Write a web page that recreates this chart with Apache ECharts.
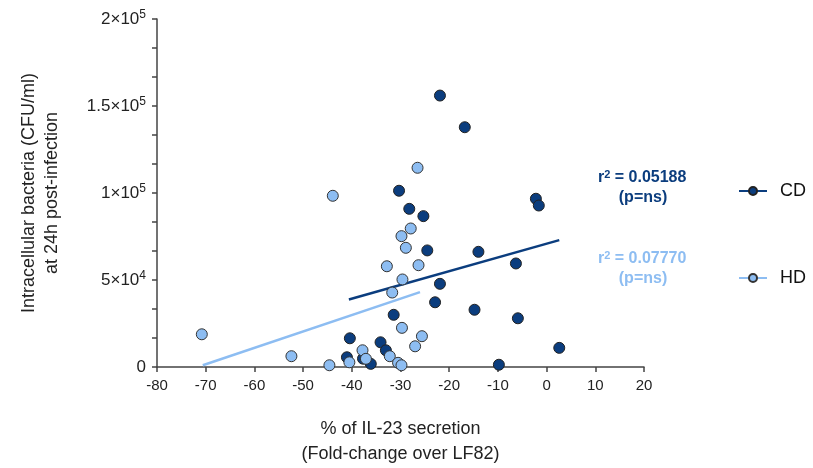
<!DOCTYPE html>
<html>
<head>
<meta charset="utf-8">
<script src="https://cdn.jsdelivr.net/npm/echarts@6/dist/echarts.min.js"></script>
<style>
  html, body { margin: 0; padding: 0; background: #fff; }
  #chart { width: 813px; height: 468px; }
</style>
</head>
<body>
<div id="chart"></div>
<script>
// data: [% IL-23 change, CFU/ml]
const cdPoints = [
  [-21.9, 156000], [-16.8, 137800], [-30.3, 101300], [-28.2, 90900],
  [-25.3, 86700], [-24.5, 67000], [-14.0, 66200], [-21.9, 47800],
  [-22.9, 37200], [-31.4, 30000], [-40.4, 16500], [-34.1, 14200],
  [-33.0, 9600], [-41.0, 5600], [-36.1, 1800], [-37.7, 4800],
  [-2.2, 96700], [-1.6, 92800], [-6.3, 59500], [-14.8, 32900],
  [-5.9, 28000], [2.6, 11000], [-9.8, 1300]
]
const hdPoints = [
  [-43.9, 98400], [-70.8, 18800], [-52.4, 6200], [-44.6, 1000],
  [-26.5, 114500], [-27.9, 79600], [-29.8, 75200], [-28.9, 68500],
  [-32.8, 57900], [-26.3, 58500], [-29.6, 50300], [-31.7, 42800],
  [-29.7, 22500], [-25.6, 17700], [-27.0, 11900], [-37.8, 9600],
  [-37.1, 4700], [-32.2, 6200], [-40.5, 2700], [-30.5, 2400],
  [-29.8, 1000]
]
// fitted regression lines (end points)
const cdFit = [[-40.6, 38800], [2.6, 72900]]
const hdFit = [[-70.6, 1000], [-26.0, 43000]]

const cdStats = ['0.05188', 'ns']
const hdStats = ['0.07770', 'ns']

const yTickLabels = {
  0: ['0', ''],
  50000: ['5×10', '4'],
  100000: ['1×10', '5'],
  150000: ['1.5×10', '5'],
  200000: ['2×10', '5']
}

const darkBlue = '#0b3d7e'
const lightBlue = '#8dbdf2'
const fontName = 'Liberation Sans, Arial, sans-serif'

let chart = echarts.init(document.getElementById('chart'), null, { renderer: 'canvas' })

let statText = (stats, color, top) => ({
  type: 'text',
  left: 598,
  top: top,
  style: {
    text: '{b|r}{s|2}{b| = ' + stats[0] + '}\n{c|(p=' + stats[1] + ')}',
    rich: {
      b: { fontSize: 16, fontWeight: 'bold', fill: color, fontFamily: fontName },
      s: { fontSize: 11, fontWeight: 'bold', fill: color, fontFamily: fontName, verticalAlign: 'top', padding: [0, 0, 6, 0] },
      c: { fontSize: 16, fontWeight: 'bold', fill: color, fontFamily: fontName, width: 90, align: 'center', lineHeight: 24 }
    }
  }
})

let option = {
  animation: false,
  textStyle: { fontFamily: fontName },
  grid: { left: 157, right: 169, top: 19, bottom: 101, containLabel: false, outerBoundsMode: 'none' },
  xAxis: {
    type: 'value',
    min: -80, max: 20, interval: 10,
    splitLine: { show: false },
    axisLine: { onZero: false, lineStyle: { color: '#444', width: 1.5 } },
    axisTick: { length: 5, lineStyle: { color: '#444', width: 1.5 } },
    axisLabel: { fontSize: 15, color: '#222', margin: 11 },
    name: '% of IL-23 secretion\n(Fold-change over LF82)',
    nameLocation: 'middle',
    nameGap: 50,
    nameTextStyle: { fontSize: 18, color: '#222', lineHeight: 25 }
  },
  yAxis: {
    type: 'value',
    min: 0, max: 200000, interval: 50000,
    splitLine: { show: false },
    axisLine: { show: true, onZero: false, lineStyle: { color: '#444', width: 1.5 } },
    axisTick: { show: true, length: 5, lineStyle: { color: '#444', width: 1.5 } },
    minorTick: { show: true, splitNumber: 3, length: 5, lineStyle: { color: '#444', width: 1.5 } },
    axisLabel: {
      margin: 11,
      formatter: v => {
        let t = yTickLabels[v]
        return t[1] ? '{m|' + t[0] + '}{e|' + t[1] + '}' : '{m|' + t[0] + '}'
      },
      rich: {
        m: { fontSize: 17, color: '#222' },
        e: { fontSize: 12, color: '#222', verticalAlign: 'top', padding: [0, 0, 8, 0] }
      }
    },
    name: 'Intracellular bacteria (CFU/ml)\nat 24h post-infection',
    nameLocation: 'middle',
    nameRotate: 90,
    nameGap: 93,
    nameTextStyle: { fontSize: 18, color: '#222', lineHeight: 23 }
  },
  legend: {
    data: ['CD', 'HD'],
    orient: 'vertical',
    left: 733,
    top: 177,
    itemGap: 69,
    itemWidth: 28,
    itemHeight: 10,
    textStyle: { fontSize: 18, color: '#111', padding: [0, 0, 0, 8] }
  },
  graphic: [
    statText(cdStats, darkBlue, 169),
    statText(hdStats, lightBlue, 250)
  ],
  series: [
    {
      name: 'CD', type: 'line', data: cdFit,
      symbol: 'circle', symbolSize: 9, showSymbol: false,
      lineStyle: { color: darkBlue, width: 2.5 },
      itemStyle: { color: darkBlue, borderColor: '#222', borderWidth: 1 },
      z: 1
    },
    {
      name: 'HD', type: 'line', data: hdFit,
      symbol: 'circle', symbolSize: 9, showSymbol: false,
      lineStyle: { color: lightBlue, width: 2.5 },
      itemStyle: { color: lightBlue, borderColor: '#333', borderWidth: 1 },
      z: 1
    },
    {
      name: 'CD', type: 'scatter', data: cdPoints, symbolSize: 11,
      itemStyle: { color: darkBlue, borderColor: '#222', borderWidth: 1, opacity: 1 },
      z: 3
    },
    {
      name: 'HD', type: 'scatter', data: hdPoints, symbolSize: 11,
      itemStyle: { color: lightBlue, borderColor: '#333', borderWidth: 1, opacity: 1 },
      z: 4
    }
  ]
}

chart.setOption(option)
</script>
</body>
</html>
